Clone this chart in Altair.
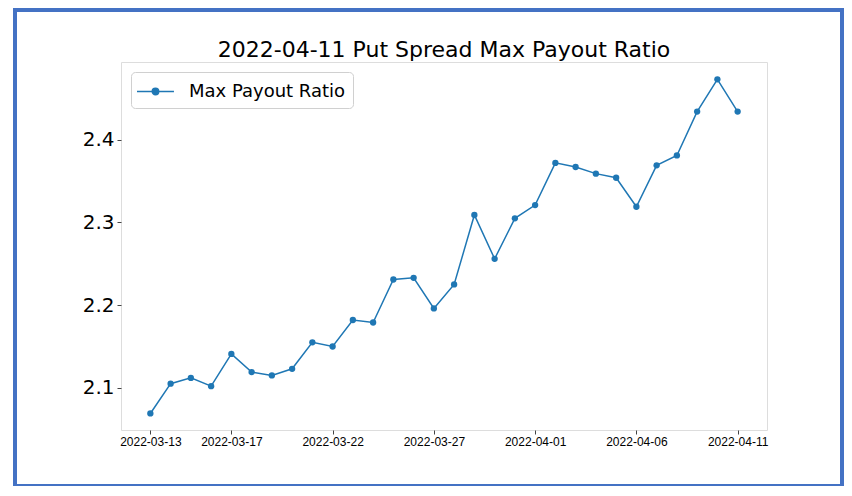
import altair as alt
import pandas as pd

dates = pd.date_range("2022-03-13", "2022-04-11", freq="D").strftime("%Y-%m-%d").tolist()
ratios = [2.069, 2.105, 2.112, 2.102, 2.141, 2.119, 2.115, 2.123, 2.155, 2.150,
          2.182, 2.179, 2.231, 2.233, 2.196, 2.225, 2.309, 2.256, 2.305, 2.321,
          2.372, 2.367, 2.359, 2.354, 2.319, 2.369, 2.381, 2.434, 2.473, 2.434]
series_name = "Max Payout Ratio"
title_text = "2022-04-11 Put Spread Max Payout Ratio"
y_ticks = [2.1, 2.2, 2.3, 2.4]
x_tick_days = [(3, 13), (3, 17), (3, 22), (3, 27), (4, 1), (4, 6), (4, 11)]

df = pd.DataFrame({"date": dates, "ratio": ratios, "series": series_name})
title_df = pd.DataFrame({"t": [title_text]})

BLUE = "#1f77b4"
x_enc = alt.X(
    "date:T",
    scale=alt.Scale(
        type="utc",
        domain=[alt.DateTime(year=2022, month=3, date=11, hours=13, minutes=12, utc=True),
                alt.DateTime(year=2022, month=4, date=12, hours=10, minutes=48, utc=True)],
    ),
    axis=alt.Axis(
        values=[alt.DateTime(year=2022, month=m, date=d, utc=True) for m, d in x_tick_days],
        format="%Y-%m-%d", title=None, labelFont="Liberation Sans",
        labelFontSize=12, labelColor="#000", tickSize=4, labelPadding=2, grid=False, domain=False,
        tickColor="#444", labelAngle=0,
    ),
)
y_enc = alt.Y(
    "ratio:Q",
    scale=alt.Scale(domain=[2.049, 2.494], nice=False, zero=False),
    axis=alt.Axis(values=y_ticks, format=".1f", title=None, labelFont="DejaVu Sans", labelFontSize=20,
                  labelColor="#000", tickSize=4, labelPadding=3, grid=False, domain=False, tickColor="#444"),
)
color_enc = alt.Color(
    "series:N",
    scale=alt.Scale(domain=[series_name], range=[BLUE]),
    legend=alt.Legend(
        title=None, orient="none", legendX=10, legendY=10,
        symbolType="M-1.17,0L2.03,0M0.15,0A0.28,0.28 0 1,1 0.71,0A0.28,0.28 0 1,1 0.15,0",
        symbolSize=534, symbolStrokeWidth=1.5, symbolFillColor=BLUE, symbolStrokeColor=BLUE,
        labelFont="DejaVu Sans", labelFontSize=18, labelColor="#000", labelOffset=26,
        fillColor="white", strokeColor="#d0d0d0", cornerRadius=4, padding=7,
    ),
)

line = alt.Chart(df).mark_line(strokeWidth=1.5).encode(x=x_enc, y=y_enc, color=color_enc)
pts = alt.Chart(df).mark_circle(size=40, opacity=1, color=BLUE).encode(x="date:T", y="ratio:Q")
border = alt.Chart(df).mark_rect(fill=None, stroke="#4472C4", strokeWidth=4).encode(
    x=alt.value(-106), x2=alt.value(721), y=alt.value(-52), y2=alt.value(424)
)
title = alt.Chart(title_df).mark_text(
    font="DejaVu Sans", fontSize=22, color="#000", align="center", baseline="alphabetic"
).encode(text="t:N", x=alt.value(323), y=alt.value(-5))

chart = alt.layer(border, line, pts, title).properties(
    width=646, height=368,
    autosize=alt.AutoSizeParams(type="none"),
    padding={"left": 113, "top": 54, "right": 77, "bottom": 56},
).configure_view(stroke="#444", strokeWidth=1).configure(background="white")

chart.save("out.html", embed_options={"renderer": "svg", "actions": False})
